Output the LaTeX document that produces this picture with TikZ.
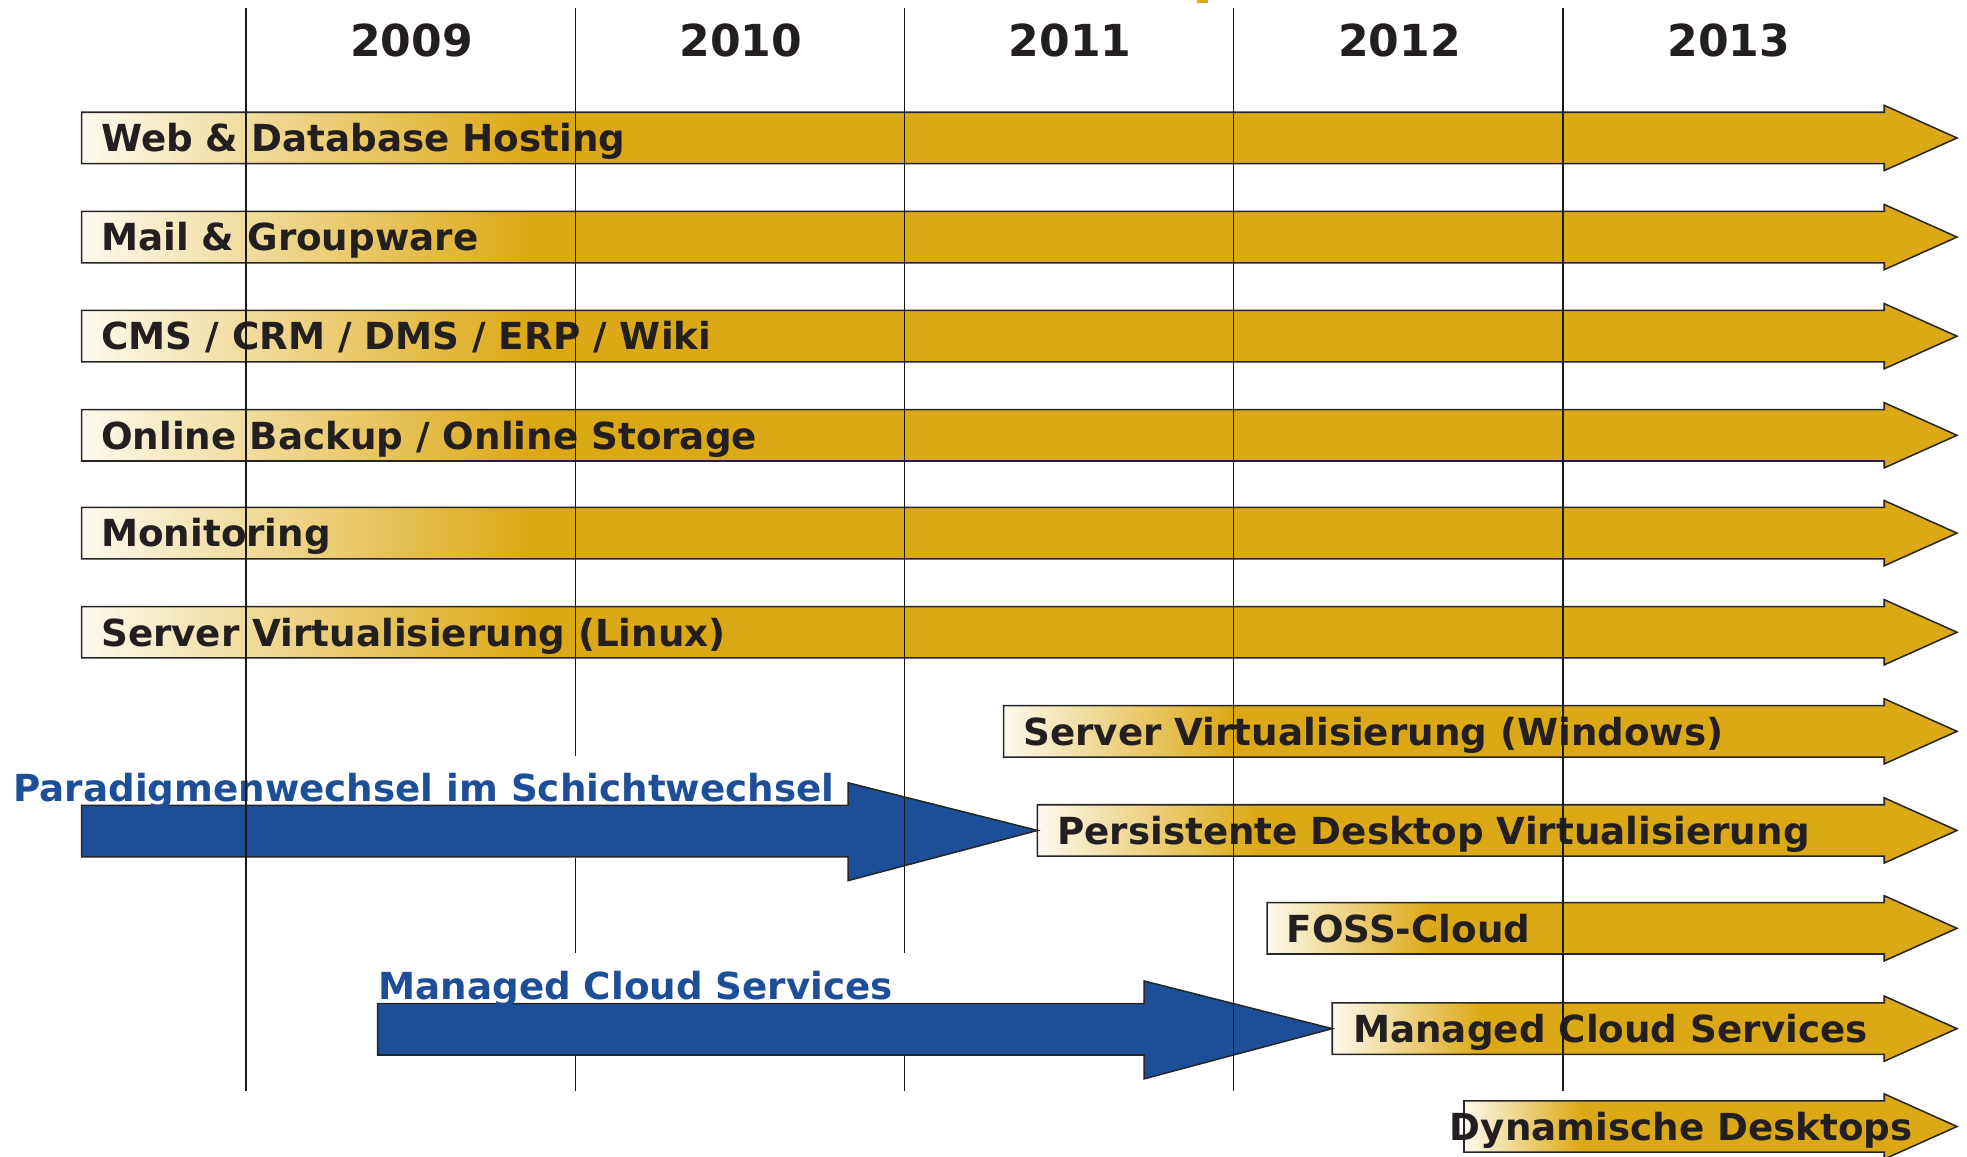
\documentclass[tikz,border=0pt]{standalone}
\usepackage{fontspec}
\setmainfont{DejaVu Sans}
\definecolor{bargold}{RGB}{220,169,22}
\definecolor{barcream}{RGB}{253,250,238}
\definecolor{shiftblue}{RGB}{29,79,152}
\definecolor{inkdark}{RGB}{35,31,32}
\pgfdeclarehorizontalshading{goldfade}{100bp}{color(0bp)=(barcream); color(25bp)=(barcream); color(36.9bp)=(bargold); color(100bp)=(bargold)}
% #1 name, #2 left end, #3 centre y, #4 label x, #5 label
\newcommand{\timebar}[5]{%
  \coordinate (#1-start) at (#2,#3);
  \shadedraw[bar] (#2,#3+0.205) -- (15.02,#3+0.205) -- (15.02,#3+0.26) -- (15.60,#3)
    -- (15.02,#3-0.26) -- (15.02,#3-0.205) -- (#2,#3-0.205) -- cycle;
  \node [barlabel] (#1) at (#4,#3-0.11) {#5};
}
\begin{document}
\begin{tikzpicture}
  \tikzstyle{bar}=[shading=goldfade, draw=black!85, line width=0.35pt]
  \tikzstyle{barlabel}=[anchor=base west, inner sep=0pt, font=\fontsize{8.45}{10}\selectfont\bfseries, text=inkdark]
  \tikzstyle{yearlabel}=[inner sep=0pt, font=\fontsize{10}{12}\selectfont\bfseries, text=inkdark]
  \tikzstyle{shiftarrow}=[fill=shiftblue, draw=black!85, line width=0.35pt]
  \tikzstyle{shiftlabel}=[anchor=base west, inner sep=0pt, font=\fontsize{8.45}{10}\selectfont\bfseries, text=shiftblue]
  \tikzstyle{gridline}=[draw=black!90, line width=0.3pt]
  \useasboundingbox (0,0) rectangle (15.68,-9.22);

  % years
  \foreach \yr [count=\i from 0] in {2009,2010,2011,2012,2013}
    \node [yearlabel] (y\yr) at (3.28+2.625*\i,-0.32) {\yr};
  \fill [bargold] (9.54,0) rectangle (9.63,-0.025);

  % services
  \timebar{web}{0.65}{-1.10}{0.80}{Web \& Database Hosting}
  \timebar{mail}{0.65}{-1.89}{0.80}{Mail \& Groupware}
  \timebar{cms}{0.65}{-2.68}{0.80}{CMS / CRM / DMS / ERP / Wiki}
  \timebar{backup}{0.65}{-3.47}{0.80}{Online Backup / Online Storage}
  \timebar{monitor}{0.65}{-4.25}{0.80}{Monitoring}
  \timebar{linux}{0.65}{-5.04}{0.80}{Server Virtualisierung (Linux)}
  \timebar{windows}{8.00}{-5.83}{8.15}{Server Virtualisierung (Windows)}
  \timebar{persist}{8.27}{-6.62}{8.42}{Persistente Desktop Virtualisierung}
  \timebar{foss}{10.10}{-7.40}{10.25}{FOSS-Cloud}
  \timebar{managed}{10.62}{-8.20}{10.78}{Managed Cloud Services}
  \timebar{dynamic}{11.67}{-8.98}{11.55}{Dynamische Desktops}

  % shifts
  \path [shiftarrow] (0.65,-6.42) -- (6.76,-6.42) -- (6.76,-6.24) -- (persist-start)
    -- (6.76,-7.02) -- (6.76,-6.83) -- (0.65,-6.83) -- cycle;
  \node [shiftlabel] (paradigm) at (0.10,-6.39) {Paradigmenwechsel im Schichtwechsel};
  \path [shiftarrow] (3.01,-8.00) -- (9.12,-8.00) -- (9.12,-7.82) -- (managed-start)
    -- (9.12,-8.60) -- (9.12,-8.41) -- (3.01,-8.41) -- cycle;
  \node [shiftlabel] (cloud) at (3.01,-7.97) {Managed Cloud Services};

  % year grid
  \foreach \x in {1.96,9.835,12.46}
    \path [gridline] (\x,-0.06) -- (\x,-8.70);
  \path [gridline] (4.585,-0.06) -- (4.585,-6.03) (4.585,-6.84) -- (4.585,-7.60) (4.585,-8.42) -- (4.585,-8.70);
  \path [gridline] (7.21,-0.06) -- (7.21,-7.60) (7.21,-8.42) -- (7.21,-8.70);
\end{tikzpicture}
\end{document}
